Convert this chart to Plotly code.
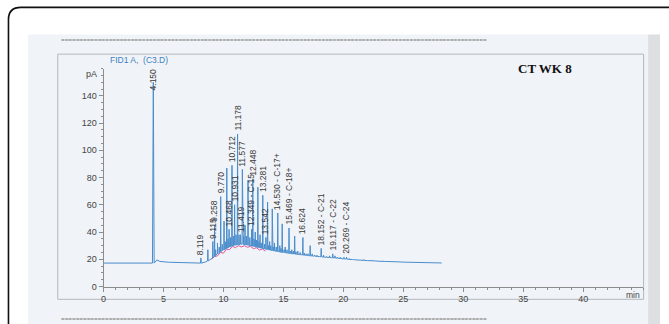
import plotly.graph_objects as go

W, H = 669, 324

# ---------------- data ----------------
# slowly varying baseline / unresolved hump (min, pA)
hump_t = [0.0, 4.0, 4.45, 4.7, 5.5, 7.0, 8.0, 8.5, 9.0, 9.5, 10.0, 10.5, 11.0, 11.5, 12.0, 12.5,
          13.0, 13.5, 14.0, 15.0, 16.0, 17.0, 18.0, 19.0, 20.0, 21.0, 22.0, 23.5, 25.0, 26.5, 28.2]
hump_v = [17.2, 17.2, 19.5, 18.4, 17.8, 17.4, 17.2, 18.0, 20.5, 24.0, 27.0, 29.0, 30.5, 31.0, 30.5, 29.5,
          28.5, 27.5, 26.5, 25.0, 23.8, 22.8, 22.0, 21.2, 20.3, 19.6, 19.0, 18.4, 17.9, 17.6, 17.3]

# main peaks: retention time (min), apex (pA), base level (pA)
peak_rt = [4.150, 8.119, 8.70, 9.115, 9.258, 9.50, 9.770, 10.05, 10.28, 10.468, 10.712, 10.931,
           11.178, 11.419, 11.577, 11.80, 12.05, 12.349, 12.448, 12.65, 12.87, 13.05, 13.281,
           13.542, 13.68, 13.85, 14.07, 14.25, 14.530, 14.70, 14.90, 15.15, 15.469, 15.70, 15.94,
           16.20, 16.624, 16.90, 17.23, 17.60, 18.152, 18.60, 19.117, 19.50, 20.269, 20.80, 21.70, 23.30]
peak_top = [150, 21, 27, 33, 45, 32, 66, 48, 87, 42, 89, 60,
            112, 38, 86, 45, 78, 42, 79, 40, 73, 38, 67,
            36, 62, 33, 57, 32, 54, 30, 46, 29, 43, 27, 37,
            26, 36, 24, 30, 23, 28, 22, 24, 21.5, 21.5, 20, 19.8, 18.9]
peak_base = [17.2, 17.2, 18.8, 21.0, 22.0, 24.0, 25.5, 27.0, 28.0, 29.0, 29.8, 30.3,
             30.7, 31.0, 31.0, 30.8, 30.4, 29.8, 29.6, 29.2, 28.8, 28.4, 28.0,
             27.4, 27.2, 26.8, 26.4, 26.1, 25.7, 25.4, 25.1, 24.8, 24.4, 24.1, 23.9,
             23.6, 23.2, 22.9, 22.6, 22.3, 21.9, 21.5, 21.1, 20.8, 20.2, 19.8, 19.2, 18.4]

# small unresolved "grass" peaks on the hump
minor_rt = [9.35, 9.65, 9.90, 10.15, 10.38, 10.60, 10.82, 11.05, 11.30, 11.68, 11.92, 12.20,
            12.55, 12.76, 12.96, 13.15, 13.42, 13.75, 13.95, 14.15, 14.40, 14.80, 15.05, 15.30,
            15.60, 15.83, 16.05, 16.40, 16.75, 17.05, 17.40, 17.80, 18.35, 18.85, 19.30, 19.75,
            20.05, 20.50, 22.40, 24.60]
minor_top = [27, 29, 31, 33, 35, 36, 37, 38, 38, 37, 37, 36,
             35, 34, 33, 32, 31, 30, 30, 29, 29, 28, 27, 27,
             26, 26, 25.5, 25, 24.5, 24, 24, 23, 23, 22.5, 22.5, 21.5,
             21.5, 20.5, 19.5, 18.6]
minor_base = [23.0, 25.0, 26.5, 27.5, 28.5, 29.3, 30.0, 30.5, 30.8, 30.9, 30.6, 30.1,
              29.4, 29.0, 28.6, 28.2, 27.7, 27.1, 26.7, 26.3, 25.9, 25.2, 24.9, 24.6,
              24.2, 24.0, 23.7, 23.4, 23.0, 22.7, 22.4, 22.1, 21.6, 21.3, 21.0, 20.6,
              20.3, 19.9, 18.9, 18.1]

# integration (pink) baseline segments
pink_t = [9.0, 9.25, 9.5, 9.75, 10.0, 10.25, 10.5, 10.75, 11.0, 11.25, 11.5, 11.75, 12.0, 12.25,
          12.5, 12.75, 13.0, 13.25, 13.5]
pink_v = [20.0, 22.0, 22.5, 25.0, 24.5, 27.5, 27.0, 29.5, 28.5, 30.0, 29.0, 30.0, 28.8, 29.5,
          27.8, 28.5, 26.8, 27.5, 26.0]

label_rt = [4.150, 8.119, 9.115, 9.258, 9.770, 10.468, 10.712, 10.931, 11.178, 11.419, 11.577,
            12.349, 12.448, 13.281, 13.542, 14.530, 15.469, 16.624, 18.152, 19.117, 20.269]
label_text = ["4.150", "8.119", "9.115", "9.258", "9.770", "10.468", "10.712", "10.931", "11.178",
              "11.419", "11.577", "12.349 - C-15", "12.448", "13.281", "13.542", "14.530 - C-17+",
              "15.469 - C-18+", "16.624", "18.152 - C-21", "19.117 - C-22", "20.269 - C-24"]

x_ticks = [0, 5, 10, 15, 20, 25, 30, 35, 40]
y_ticks = [0, 20, 40, 60, 80, 100, 120, 140]

# ---------------- build trace points ----------------
pts = list(zip(hump_t, hump_v))
for rt, top, base in zip(peak_rt, peak_top, peak_base):
    hw = 0.07 if top > 120 else 0.025
    pts += [(rt - hw, base), (rt, top), (rt + hw, base)]
for rt, top, base in zip(minor_rt, minor_top, minor_base):
    pts += [(rt - 0.02, base), (rt, top), (rt + 0.02, base)]
pts.sort(key=lambda p: p[0])
tx = [p[0] for p in pts]
ty = [p[1] for p in pts]

fig = go.Figure()
fig.add_trace(go.Scatter(x=pink_t, y=pink_v, mode="lines",
                         line=dict(color="#e0589a", width=1), hoverinfo="skip"))
fig.add_trace(go.Scatter(x=tx, y=ty, mode="lines",
                         line=dict(color="#4a8dcc", width=1), hoverinfo="skip"))

# ---------------- geometry helpers ----------------
def px(x):
    return x / W

def py(y):
    return 1 - y / H

x0_px, x45_px = 101, 643
y0_px, y160_px = 291, 69.7

shapes = [
    # scanned page area
    dict(type="rect", xref="paper", yref="paper", x0=px(25), x1=px(648), y0=py(330), y1=py(35),
         fillcolor="#f0f3f7", line=dict(width=0), layer="below"),
    dict(type="rect", xref="paper", yref="paper", x0=px(648), x1=px(660), y0=py(330), y1=py(35),
         fillcolor="#dedfe2", line=dict(width=0), layer="below"),
    # plot frame
    dict(type="rect", xref="paper", yref="paper", x0=px(55), x1=px(643.5), y0=py(304), y1=py(55),
         fillcolor="rgba(0,0,0,0)", line=dict(color="#b4b8bd", width=1), layer="below"),
    # outer rounded border
    dict(type="path", xref="paper", yref="paper",
         path=f"M {px(5.5)},{py(340)} L {px(5.5)},{py(20)} Q {px(5.5)},{py(7.5)} {px(18)},{py(7.5)} L {px(690)},{py(7.5)}",
         line=dict(color="#111111", width=1.6)),
]

ann = []
# peak labels
for rt, txt in zip(label_rt, label_text):
    top = peak_top[peak_rt.index(rt)]
    y = top - 8 if top > 120 else top
    ann.append(dict(x=rt, y=y, xref="x", yref="y", text=txt, showarrow=False, textangle=-90,
                    xanchor="center", yanchor="bottom", yshift=1,
                    font=dict(family="Liberation Sans, Arial", size=8.5, color="#3a3a3a")))

ann += [
    dict(x=px(105), y=py(60.5), xref="paper", yref="paper", text="FID1 A,  (C3.D)", showarrow=False,
         xanchor="left", yanchor="middle", font=dict(family="Liberation Sans, Arial", size=8.5, color="#3d7fc0")),
    dict(x=px(96), y=py(75), xref="paper", yref="paper", text="pA", showarrow=False,
         xanchor="right", yanchor="middle", font=dict(family="Liberation Sans, Arial", size=9, color="#444")),
    dict(x=px(642), y=py(299.5), xref="paper", yref="paper", text="min", showarrow=False,
         xanchor="right", yanchor="middle", font=dict(family="Liberation Sans, Arial", size=8.5, color="#444")),
    dict(x=px(544), y=py(70), xref="paper", yref="paper", text="<b>CT WK 8</b>", showarrow=False,
         xanchor="center", yanchor="middle", font=dict(family="Liberation Serif, Times New Roman", size=13, color="#111")),
    dict(x=px(56), y=py(40), xref="paper", yref="paper", text="=" * 116, showarrow=False,
         xanchor="left", yanchor="middle", font=dict(family="DejaVu Sans Mono", size=6.1, color="#7a7a7a")),
    dict(x=px(56), y=py(323), xref="paper", yref="paper", text="=" * 116, showarrow=False,
         xanchor="left", yanchor="middle", font=dict(family="DejaVu Sans Mono", size=6.1, color="#7a7a7a")),
]

fig.update_layout(
    width=W, height=H, margin=dict(l=0, r=0, t=0, b=0),
    paper_bgcolor="white", plot_bgcolor="rgba(0,0,0,0)",
    showlegend=False, shapes=shapes, annotations=ann,
    xaxis=dict(domain=[px(x0_px), px(x45_px)], range=[0, 45], tickvals=x_ticks,
               showline=True, linecolor="#8c8c8c", linewidth=1, ticks="outside", ticklen=4,
               tickcolor="#8c8c8c", showgrid=False, zeroline=False,
               minor=dict(dtick=1, ticks="outside", ticklen=2, tickcolor="#8c8c8c", showgrid=False),
               tickfont=dict(family="Liberation Sans, Arial", size=9, color="#444")),
    yaxis=dict(domain=[py(y0_px), py(y160_px)], range=[0, 160], tickvals=y_ticks,
               showline=True, linecolor="#8c8c8c", linewidth=1, ticks="outside", ticklen=4,
               tickcolor="#8c8c8c", showgrid=False, zeroline=False,
               minor=dict(dtick=5, ticks="outside", ticklen=2, tickcolor="#8c8c8c", showgrid=False),
               tickfont=dict(family="Liberation Sans, Arial", size=9, color="#444")),
)

fig.write_html("out.html")
